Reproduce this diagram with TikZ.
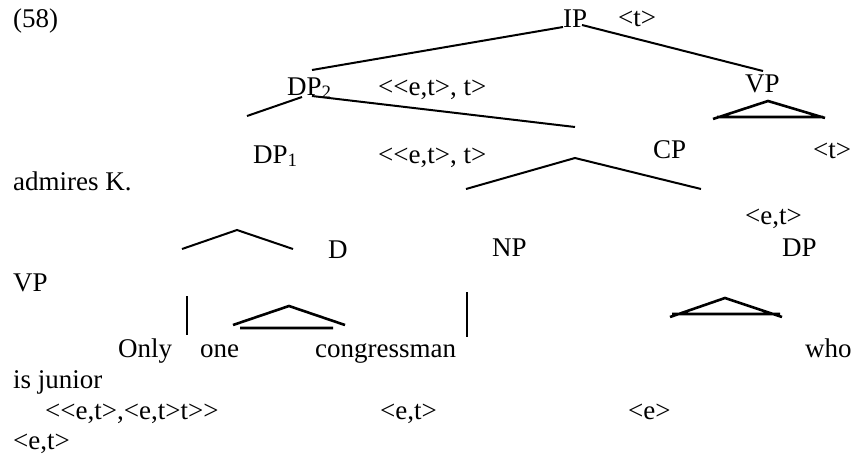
\documentclass[tikz,border=0pt]{standalone}
\usepackage{fontspec}
\setmainfont{Liberation Serif}[Ligatures=TeXOff]

\begin{document}
\begin{tikzpicture}[x=1pt,y=-1pt,line cap=butt,
  every node/.style={anchor=base west,inner sep=0pt,font=\fontsize{27}{31}\selectfont},
  branch/.style={line width=2pt},
  roof/.style={line width=2.6pt}]

  \useasboundingbox (0,0) rectangle (857,458);

  % labels, by baseline
  \node (ex)    at (13,27)   {(58)};
  \node (ip)    at (563,27)  {IP};
  \node (ipt)   at (618,26)  {<t>};
  \node (dp2)   at (287,95)  {DP\textsubscript{2}};
  \node (dp2t)  at (378,95)  {<<e,t>, t>};
  \node (vp)    at (745,92)  {VP};
  \node (dp1)   at (253,163) {DP\textsubscript{1}};
  \node (dp1t)  at (378,163) {<<e,t>, t>};
  \node (cp)    at (653,158) {CP};
  \node (cpt)   at (813,158) {<t>};
  \node (adm)   at (13,190)  {admires K.};
  \node (dpt)   at (745,224) {<e,t>};
  \node (d)     at (328,258) {D};
  \node (np)    at (492,256) {NP};
  \node (dp)    at (782,256) {DP};
  \node (vp2)   at (13,291)  {VP};
  \node (only)  at (118,357) {Only};
  \node (one)   at (200,357) {one};
  \node (cong)  at (315,357) {congressman};
  \node (who)   at (805,357) {who};
  \node (jun)   at (13,388)  {is junior};
  \node (dt)    at (45,419)  {<<e,t>,<e,t>t>>};
  \node (npt)   at (380,419) {<e,t>};
  \node (et)    at (628,419) {<e>};
  \node (vpt)   at (13,449)  {<e,t>};

  % branch ends
  \coordinate (ip-a)  at (563,27);  \coordinate (ip-l)  at (312,70);
  \coordinate (ip-b)  at (582,25);  \coordinate (ip-r)  at (763,71);
  \coordinate (dp2-a) at (302,97);  \coordinate (dp2-l) at (247,116);
  \coordinate (dp2-b) at (312,96);  \coordinate (dp2-r) at (575,127);
  \coordinate (cp-a)  at (575,158); \coordinate (cp-l)  at (466,189);
  \coordinate (cp-r)  at (701,189);
  \coordinate (d-a)   at (237,230); \coordinate (d-l)   at (182,249);
  \coordinate (d-r)   at (293,249);
  \coordinate (bar1-a) at (187,296); \coordinate (bar1-b) at (187,335);
  \coordinate (bar2-a) at (467,292); \coordinate (bar2-b) at (467,337);

  \path[branch]
    (ip-a) edge (ip-l)
    (ip-b) edge (ip-r)
    (dp2-a) edge (dp2-l)
    (dp2-b) edge (dp2-r)
    (bar1-a) edge (bar1-b)
    (bar2-a) edge (bar2-b);
  \draw[branch] (cp-l) -- (cp-a) -- (cp-r);
  \draw[branch] (d-l) -- (d-a) -- (d-r);

  % roofs
  \coordinate (vp-a) at (768,101); \coordinate (vp-l) at (713,119);
  \coordinate (vp-r) at (825,118);
  \draw[roof] (vp-l) -- (vp-a) -- (vp-r) (717,117) -- (823,117);
  \coordinate (one-a) at (289,306); \coordinate (one-l) at (233,325);
  \coordinate (one-r) at (345,325);
  \draw[roof] (one-l) -- (one-a) -- (one-r) (240,328) -- (333,328);
  \coordinate (dp-a) at (725,298); \coordinate (dp-l) at (670,317);
  \coordinate (dp-r) at (782,317);
  \draw[roof] (dp-l) -- (dp-a) -- (dp-r) (672,314) -- (780,314);
\end{tikzpicture}
\end{document}
